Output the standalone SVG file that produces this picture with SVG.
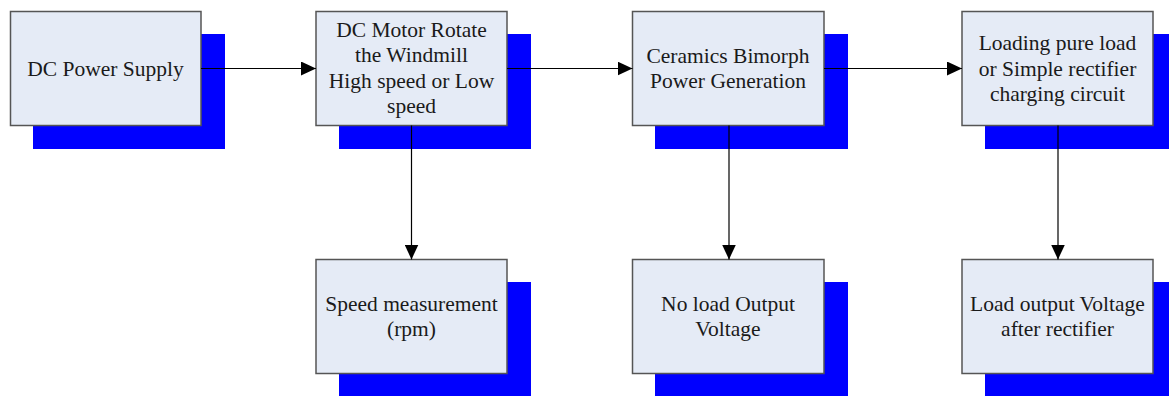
<svg xmlns="http://www.w3.org/2000/svg" width="1169" height="396" viewBox="0 0 1169 396">
<style>
.sh{fill:#0000FF;}
.bx{fill:#E5EBF6;stroke:#555555;stroke-width:1.5;}
.t{font-family:"Liberation Serif","Times New Roman",serif;font-size:21.5px;fill:#1a1a1a;text-anchor:middle;}
.c{stroke:#000;stroke-width:1.2;fill:none;marker-end:url(#ah);}
</style>
<defs>
<marker id="ah" markerUnits="userSpaceOnUse" markerWidth="16" markerHeight="14" refX="15" refY="7" orient="auto">
<path d="M0,0 L15,7 L0,14 Z" fill="#000"/>
</marker>
</defs>
<rect width="1169" height="396" fill="#fff"/>
<g id="n1">
<rect class="sh" x="33" y="34" width="192" height="115"/>
<rect class="bx" x="10.5" y="11.5" width="190.5" height="114"/>
<text class="t" x="105.5" y="75.5">DC Power Supply</text>
</g>
<g id="n2">
<rect class="sh" x="339" y="34" width="192" height="115"/>
<rect class="bx" x="316" y="11.5" width="191" height="114"/>
<text class="t" x="411.5" y="36.5">DC Motor Rotate</text>
<text class="t" x="411.5" y="62">the Windmill</text>
<text class="t" x="411.5" y="87.5">High speed or Low</text>
<text class="t" x="411.5" y="113">speed</text>
</g>
<g id="n3">
<rect class="sh" x="655" y="34" width="193" height="115"/>
<rect class="bx" x="632.5" y="11.5" width="191.5" height="114"/>
<text class="t" x="728" y="62.5">Ceramics Bimorph</text>
<text class="t" x="728" y="88">Power Generation</text>
</g>
<g id="n4">
<rect class="sh" x="985" y="34" width="192" height="115"/>
<rect class="bx" x="962" y="11.5" width="191" height="114"/>
<text class="t" x="1057.5" y="50">Loading pure load</text>
<text class="t" x="1057.5" y="75.5">or Simple rectifier</text>
<text class="t" x="1057.5" y="101">charging circuit</text>
</g>
<g id="n5">
<rect class="sh" x="339" y="282" width="192" height="115"/>
<rect class="bx" x="316" y="259.5" width="191" height="114"/>
<text class="t" x="411.5" y="310.5">Speed measurement</text>
<text class="t" x="411.5" y="336">(rpm)</text>
</g>
<g id="n6">
<rect class="sh" x="655" y="282" width="193" height="115"/>
<rect class="bx" x="632.5" y="259.5" width="191.5" height="114"/>
<text class="t" x="728" y="310.5">No load Output</text>
<text class="t" x="728" y="336">Voltage</text>
</g>
<g id="n7">
<rect class="sh" x="985" y="282" width="192" height="115"/>
<rect class="bx" x="962" y="259.5" width="191" height="114"/>
<text class="t" x="1057.5" y="310.5">Load output Voltage</text>
<text class="t" x="1057.5" y="336">after rectifier</text>
</g>
<g id="connectors">
<line class="c" x1="201" y1="68.5" x2="316" y2="68.5"/>
<line class="c" x1="507" y1="68.5" x2="632.5" y2="68.5"/>
<line class="c" x1="824" y1="68.5" x2="962" y2="68.5"/>
<line class="c" x1="411.5" y1="125.5" x2="411.5" y2="259.5"/>
<line class="c" x1="729" y1="125.5" x2="729" y2="259.5"/>
<line class="c" x1="1058" y1="125.5" x2="1058" y2="259.5"/>
</g>
</svg>
